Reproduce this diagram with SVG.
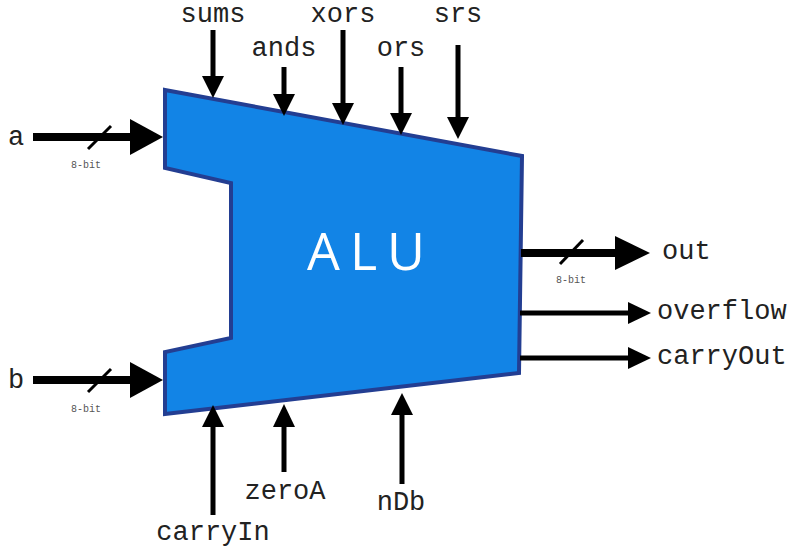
<svg xmlns="http://www.w3.org/2000/svg" width="800" height="553" viewBox="0 0 800 553">
<style>
.lbl{font-family:"Liberation Mono","Courier New",monospace;font-size:27px;fill:#222}
.bit{font-family:"Liberation Mono","Courier New",monospace;font-size:10px;fill:#555}
.alu{font-family:"Open Sans","Lato","Liberation Sans",sans-serif;font-size:52px;fill:#fff;letter-spacing:10px}
.thick{stroke:#000;stroke-width:8;fill:none}
.thin{stroke:#000;stroke-width:5;fill:none}
.slash{stroke:#000;stroke-width:3}
.head{fill:#000}
</style>
<rect width="800" height="553" fill="#fff"/>
<g id="alu">
<polygon points="165,90 522,156 519,373 165,414 165,352 231,338 231,183 165,168" fill="#1284e6" stroke="#233e92" stroke-width="4" stroke-linejoin="miter"/>
<text class="alu" x="371" y="270" text-anchor="middle">ALU</text>
</g>
<g id="connectors">
<line class="thick" x1="33" y1="137" x2="132" y2="137"/>
<polygon class="head" points="130,119 163,137 130,155"/>
<line class="slash" x1="88" y1="149" x2="111" y2="126"/>
<line class="thick" x1="33" y1="380" x2="132" y2="380"/>
<polygon class="head" points="130,362 163,380 130,398"/>
<line class="slash" x1="88" y1="392" x2="111" y2="369"/>
<line class="thick" x1="521" y1="253" x2="617" y2="253"/>
<polygon class="head" points="615,236 650,253 615,270"/>
<line class="slash" x1="560" y1="264" x2="583" y2="240"/>
<line class="thin" x1="520" y1="313" x2="630" y2="313"/>
<polygon class="head" points="628,302 651,313 628,324"/>
<line class="thin" x1="520" y1="358" x2="630" y2="358"/>
<polygon class="head" points="628,347 651,358 628,369"/>
<line class="thin" x1="213" y1="30" x2="213" y2="78"/>
<polygon class="head" points="202,76 224,76 213,98"/>
<line class="thin" x1="284" y1="67" x2="284" y2="96"/>
<polygon class="head" points="273,94 295,94 284,116"/>
<line class="thin" x1="343" y1="30" x2="343" y2="105"/>
<polygon class="head" points="332,103 354,103 343,125"/>
<line class="thin" x1="401" y1="67" x2="401" y2="115"/>
<polygon class="head" points="390,113 412,113 401,135"/>
<line class="thin" x1="458" y1="45" x2="458" y2="119"/>
<polygon class="head" points="447,117 469,117 458,139"/>
<line class="thin" x1="213" y1="515" x2="213" y2="425"/>
<polygon class="head" points="202,427 224,427 213,405"/>
<line class="thin" x1="284" y1="472" x2="284" y2="425"/>
<polygon class="head" points="273,427 295,427 284,404"/>
<line class="thin" x1="402" y1="484" x2="402" y2="413"/>
<polygon class="head" points="391,415 413,415 402,393"/>
</g>
<g id="labels">
<text class="lbl" x="16" y="145" text-anchor="middle">a</text>
<text class="lbl" x="16" y="388" text-anchor="middle">b</text>
<text class="bit" x="86" y="168" text-anchor="middle">8-bit</text>
<text class="bit" x="86" y="412" text-anchor="middle">8-bit</text>
<text class="bit" x="571" y="283" text-anchor="middle">8-bit</text>
<text class="lbl" x="662" y="259">out</text>
<text class="lbl" x="657" y="319">overflow</text>
<text class="lbl" x="657" y="364">carryOut</text>
<text class="lbl" x="213" y="22" text-anchor="middle">sums</text>
<text class="lbl" x="284" y="56" text-anchor="middle">ands</text>
<text class="lbl" x="343" y="22" text-anchor="middle">xors</text>
<text class="lbl" x="401" y="56" text-anchor="middle">ors</text>
<text class="lbl" x="458" y="22" text-anchor="middle">srs</text>
<text class="lbl" x="213" y="540" text-anchor="middle">carryIn</text>
<text class="lbl" x="285" y="499" text-anchor="middle">zeroA</text>
<text class="lbl" x="401" y="510" text-anchor="middle">nDb</text>
</g>
</svg>
